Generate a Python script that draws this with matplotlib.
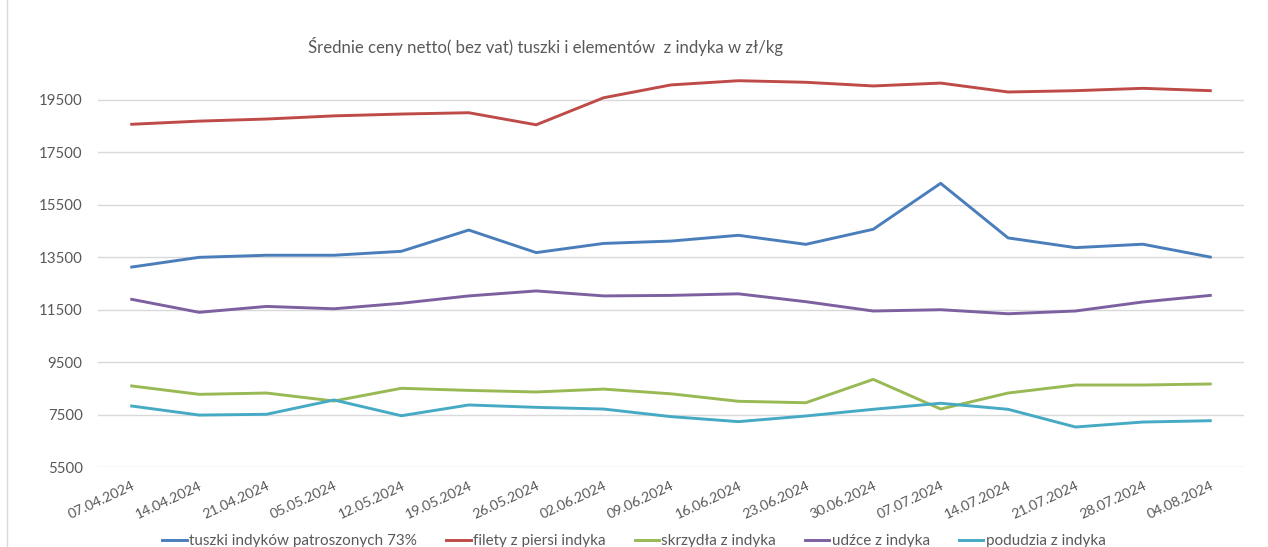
import numpy as np
import pandas as pd
import matplotlib
matplotlib.use("Agg")
import matplotlib.pyplot as plt
from matplotlib.lines import Line2D

# Data
dates = ["07.04.2024", "14.04.2024", "21.04.2024", "05.05.2024", "12.05.2024",
         "19.05.2024", "26.05.2024", "02.06.2024", "09.06.2024", "16.06.2024",
         "23.06.2024", "30.06.2024", "07.07.2024", "14.07.2024", "21.07.2024",
         "28.07.2024", "04.08.2024"]

tuszki = [13130, 13500, 13580, 13580, 13730, 14540, 13680, 14030, 14120, 14340,
          13995, 14570, 16320, 14240, 13870, 14000, 13510]
filety = [18570, 18690, 18770, 18890, 18960, 19010, 18550, 19580, 20070, 20230,
          20170, 20030, 20140, 19800, 19850, 19940, 19850]
skrzydla = [8600, 8280, 8330, 8025, 8510, 8430, 8370, 8480, 8300, 8015,
            7960, 8850, 7720, 8330, 8635, 8635, 8675]
udzce = [11900, 11405, 11630, 11540, 11750, 12030, 12220, 12030, 12050, 12110,
         11810, 11455, 11505, 11350, 11455, 11800, 12050]
podudzia = [7835, 7490, 7520, 8065, 7465, 7875, 7785, 7720, 7430, 7240,
            7455, 7710, 7940, 7710, 7035, 7225, 7275]

series_names = ["tuszki indyków patroszonych 73%", "filety z piersi indyka",
                "skrzydła z indyka", "udźce z indyka", "podudzia z indyka"]
colors = ["#4A7EBB", "#BE4B48", "#98B954", "#7D60A0", "#46AAC5"]

y_ticks = [5500, 7500, 9500, 11500, 13500, 15500, 17500, 19500]
title = "Średnie ceny netto( bez vat) tuszki i elementów  z indyka w zł/kg"

df = pd.DataFrame(dict(zip(series_names, [tuszki, filety, skrzydla, udzce, podudzia])),
                  index=dates)

plt.rcParams['font.family'] = ['Lato', 'DejaVu Sans']
text_gray = "#595959"

fig = plt.figure(figsize=(12.68, 5.47), dpi=100)
ax = fig.add_axes([98 / 1268, 1 - 467.3 / 547, (1244 - 98) / 1268, (467.3 - 60.5) / 547])

x = np.arange(len(dates))
for name, c in zip(series_names, colors):
    ax.plot(x, df[name].values, color=c, linewidth=2.1, label=name,
            solid_joinstyle='round')

ax.set_xlim(-0.5, len(dates) - 0.5)
ax.set_ylim(5500, 21000)
ax.set_yticks(y_ticks)
ax.set_xticks(x)
ax.set_xticklabels(dates, rotation=25, ha='right', rotation_mode='anchor')
ax.grid(axis='y', color='#D9D9D9', linewidth=1.0)
ax.set_axisbelow(True)
for s in ax.spines.values():
    s.set_visible(False)
ax.tick_params(axis='both', length=0, colors=text_gray)
ax.tick_params(axis='y', pad=11, labelsize=10.8)
ax.tick_params(axis='x', pad=9, labelsize=10.2)

fig.text(308 / 1268, 1 - 47 / 547, title, fontsize=12.1, color=text_gray,
         ha='left', va='center')

fig.legend(loc='center', bbox_to_anchor=(634 / 1268, 1 - 541 / 547), ncol=5,
           frameon=False, fontsize=11, handlelength=1.6, handletextpad=0.15,
           columnspacing=1.9, labelcolor=text_gray)

# thin frame line on the left like the source
fig.add_artist(Line2D([7 / 1268, 7 / 1268], [0, 1], color='#D9D9D9', linewidth=1.0))

fig.savefig("out.png", dpi=100, facecolor='white')
